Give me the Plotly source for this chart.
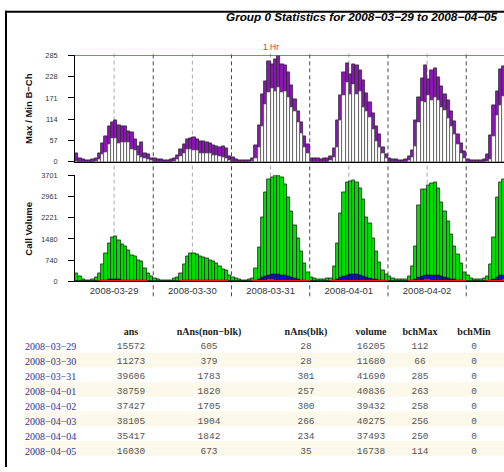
import plotly.graph_objects as go
from datetime import datetime, timedelta

W, H = 504, 472

# ---------------- hourly data ----------------
day_labels = ["2008-03-29", "2008-03-30", "2008-03-31", "2008-04-01", "2008-04-02", "2008-04-03"]

# Max / Min B-Ch per hour
max_0329 = [23, 10, 7, 5, 5, 7, 9, 22, 49, 69, 95, 107, 112, 99, 96, 94, 83, 80, 61, 42, 53, 22, 20, 11]
min_0329 = [3, 0, 0, 0, 0, 0, 2, 6, 20, 27, 48, 62, 62, 50, 52, 52, 52, 34, 32, 18, 12, 10, 7, 4]
max_0330 = [11, 7, 6, 4, 4, 6, 10, 18, 33, 46, 60, 62, 66, 61, 56, 54, 53, 50, 45, 43, 40, 41, 36, 16]
min_0330 = [0, 0, 0, 0, 0, 0, 2, 6, 14, 24, 33, 33, 32, 31, 24, 22, 22, 22, 18, 18, 16, 13, 10, 4]
max_0331 = [13, 7, 5, 4, 4, 5, 10, 44, 97, 180, 215, 270, 262, 275, 285, 262, 258, 240, 204, 167, 135, 105, 68, 46]
min_0331 = [0, 0, 0, 0, 0, 0, 2, 10, 38, 94, 155, 186, 197, 190, 199, 185, 190, 173, 147, 134, 107, 77, 38, 24]
max_0401 = [11, 11, 10, 8, 10, 11, 16, 36, 111, 177, 240, 263, 235, 260, 258, 245, 218, 184, 160, 129, 96, 73, 39, 21]
min_0401 = [0, 0, 0, 0, 0, 0, 4, 12, 40, 112, 177, 212, 182, 208, 182, 190, 147, 134, 120, 86, 55, 38, 23, 11]
max_0402 = [11, 8, 6, 5, 5, 7, 15, 30, 110, 173, 224, 258, 221, 245, 250, 227, 201, 182, 164, 134, 108, 73, 49, 29]
min_0402 = [0, 0, 0, 0, 0, 0, 4, 12, 42, 107, 163, 160, 177, 164, 173, 164, 147, 138, 116, 94, 73, 46, 24, 11]
max_0403 = [7, 4, 4, 4, 4, 6, 20, 70, 151, 190, 247, 256]
min_0403 = [0, 0, 0, 0, 0, 0, 2, 8, 68, 125, 151, 175]

# Call volume per hour (total), non-blocked unanswered, blocked
vol_0329 = [285, 171, 80, 34, 34, 57, 148, 263, 605, 971, 1313, 1519, 1553, 1439, 1290, 1233, 1085, 891, 856, 719, 697, 468, 263, 183]
vol_0330 = [120, 80, 45, 30, 25, 40, 91, 148, 285, 605, 860, 960, 980, 950, 880, 840, 800, 730, 680, 620, 514, 434, 377, 206]
vol_0331 = [150, 90, 60, 50, 50, 70, 114, 450, 1200, 2250, 3100, 3550, 3620, 3701, 3690, 3640, 3400, 2950, 2450, 1950, 1500, 1050, 620, 320]
vol_0401 = [150, 110, 70, 60, 80, 90, 120, 520, 1320, 2375, 3118, 3440, 3490, 3517, 3470, 3232, 2860, 2240, 2010, 1500, 1040, 662, 377, 240]
vol_0402 = [190, 100, 70, 60, 60, 70, 180, 514, 1233, 2661, 3209, 3209, 3346, 3437, 3460, 3232, 2775, 2432, 2090, 1633, 1233, 925, 628, 320]
vol_0403 = [205, 91, 68, 68, 68, 91, 171, 605, 1519, 2946, 3460, 3575]

nonblk_0329 = [10, 6, 3, 2, 2, 3, 6, 12, 25, 38, 50, 55, 58, 52, 48, 45, 40, 34, 30, 28, 25, 18, 10, 6]
nonblk_0330 = [5, 3, 2, 1, 1, 2, 4, 6, 10, 18, 26, 30, 32, 30, 28, 27, 26, 24, 22, 21, 19, 17, 15, 10]
nonblk_0331 = [6, 4, 3, 2, 2, 3, 5, 20, 60, 110, 150, 185, 200, 210, 205, 195, 170, 140, 110, 85, 60, 40, 25, 12]
nonblk_0401 = [5, 4, 3, 2, 2, 3, 5, 22, 65, 115, 160, 190, 200, 205, 200, 185, 160, 130, 105, 75, 50, 30, 18, 10]
nonblk_0402 = [6, 4, 3, 2, 2, 3, 6, 20, 60, 110, 150, 170, 180, 185, 180, 170, 150, 125, 100, 75, 52, 32, 20, 10]
nonblk_0403 = [6, 3, 2, 2, 2, 3, 6, 22, 65, 120, 165, 185]

blk_0329 = [0, 0, 0, 0, 0, 0, 0, 1, 2, 3, 3, 3, 3, 2, 2, 2, 2, 1, 1, 1, 1, 1, 0, 0]
blk_0330 = [0, 0, 0, 0, 0, 0, 0, 0, 1, 2, 2, 3, 3, 3, 2, 2, 2, 2, 1, 1, 1, 1, 1, 0]
blk_0331 = [0, 0, 0, 0, 0, 0, 1, 4, 12, 20, 30, 35, 35, 33, 30, 28, 24, 18, 12, 8, 5, 3, 2, 1]
blk_0401 = [0, 0, 0, 0, 0, 0, 1, 4, 10, 18, 26, 30, 30, 28, 26, 24, 20, 15, 10, 7, 4, 2, 1, 1]
blk_0402 = [0, 0, 0, 0, 0, 0, 1, 4, 12, 22, 30, 34, 34, 32, 30, 28, 24, 18, 12, 8, 5, 3, 2, 1]
blk_0403 = [0, 0, 0, 0, 0, 0, 1, 4, 12, 22, 30, 34]

bch_ticks = [0, 57, 114, 171, 228, 285]
vol_ticks = [0, 740, 1480, 2221, 2961, 3701]

# ---------------- daily table ----------------
tbl_header = ["ans", "nAns(non\u2212blk)", "nAns(blk)", "volume", "bchMax", "bchMin"]
tbl_dates = ["2008\u221203\u221229", "2008\u221203\u221230", "2008\u221203\u221231", "2008\u221204\u221201",
             "2008\u221204\u221202", "2008\u221204\u221203", "2008\u221204\u221204", "2008\u221204\u221205"]
tbl_ans = [15572, 11273, 39606, 38759, 37427, 38105, 35417, 16030]
tbl_nans_nonblk = [605, 379, 1783, 1820, 1705, 1904, 1842, 673]
tbl_nans_blk = [28, 28, 301, 257, 300, 266, 234, 35]
tbl_volume = [16205, 11680, 41690, 40836, 39432, 40275, 37493, 16738]
tbl_bchmax = [112, 66, 285, 263, 258, 256, 250, 114]
tbl_bchmin = [0, 0, 0, 0, 0, 0, 0, 0]

# ---------------- build series ----------------
maxes = max_0329 + max_0330 + max_0331 + max_0401 + max_0402 + max_0403
mins = min_0329 + min_0330 + min_0331 + min_0401 + min_0402 + min_0403
vols = vol_0329 + vol_0330 + vol_0331 + vol_0401 + vol_0402 + vol_0403
nonblk = nonblk_0329 + nonblk_0330 + nonblk_0331 + nonblk_0401 + nonblk_0402 + nonblk_0403
blk = blk_0329 + blk_0330 + blk_0331 + blk_0401 + blk_0402 + blk_0403

t0 = datetime(2008, 3, 29)
xs = [t0 + timedelta(minutes=30 + 60 * i) for i in range(len(maxes))]
bar_w = 3600 * 1000
unans = [a + b for a, b in zip(nonblk, blk)]

def px_x(p):
    return p / W

def px_y(p):
    return 1 - p / H

fig = go.Figure()
fig.add_trace(go.Bar(x=xs, y=maxes, width=bar_w, xaxis="x", yaxis="y",
                     marker=dict(color="#8a16b4", line=dict(color="#2b2b2b", width=0.8))))
fig.add_trace(go.Bar(x=xs, y=mins, width=bar_w, xaxis="x", yaxis="y",
                     marker=dict(color="white", line=dict(color="#555555", width=0.8))))
fig.add_trace(go.Bar(x=xs, y=vols, width=bar_w, xaxis="x2", yaxis="y2",
                     marker=dict(color="#00e000", line=dict(color="#222222", width=0.8))))
fig.add_trace(go.Bar(x=xs, y=unans, width=bar_w, xaxis="x2", yaxis="y2",
                     marker=dict(color="#0a14d8", line=dict(color="#111111", width=0.6))))
fig.add_trace(go.Bar(x=xs, y=blk, width=bar_w, xaxis="x2", yaxis="y2",
                     marker=dict(color="#ff1010", line=dict(width=0))))

# table geometry (pixels)
tbl_top = 321.5
row_h = 15
first_row_center = 348

# table (a spacer column keeps every centred column where it belongs)
hdr = [""] + tbl_header[:2] + [""] + tbl_header[2:]
n_rows = len(tbl_dates)
spacer = [""] * n_rows
cell_vals = [tbl_dates, tbl_ans, tbl_nans_nonblk, spacer, tbl_nans_blk, tbl_volume, tbl_bchmax, tbl_bchmin]
fig.add_trace(go.Table(
    domain=dict(x=[px_x(17), 1], y=[px_y(466), px_y(tbl_top)]),
    columnwidth=[78, 72, 84, 15, 80, 50, 48, 60],
    header=dict(values=hdr, height=row_h, fill_color="rgba(0,0,0,0)", line=dict(width=0),
                align=["left"] + ["center"] * 7,
                font=dict(family="Liberation Serif", size=10, color="#222222", weight="bold")),
    cells=dict(values=cell_vals, height=row_h, fill=dict(color="rgba(0,0,0,0)"), line=dict(width=0),
               align=["left"] + ["center"] * 7,
               font=dict(family=["Liberation Serif"] + ["Liberation Mono"] * 7,
                         size=[10] + [9.5] * 7,
                         color=["#333399"] + ["#555555"] * 7)),
))

x_start = t0
x_end = t0 + timedelta(days=5, hours=11, minutes=35)
noons = [t0 + timedelta(days=d, hours=12) for d in range(len(day_labels))]
midnights = [t0 + timedelta(days=d) for d in range(1, len(day_labels))]

axis_common = dict(type="date", range=[x_start, x_end], domain=[px_x(75), 1], showgrid=False,
                   zeroline=False, showline=True, linecolor="black", linewidth=1)
yaxis_common = dict(showgrid=False, zeroline=False, showline=True, linecolor="black", linewidth=1,
                    ticks="outside", ticklen=6, tickcolor="black", ticklabelstandoff=9,
                    tickfont=dict(family="Liberation Sans", size=7.3, color="#333333"))

shapes = []
# alternating row bands of the table
for r in range(1, n_rows, 2):
    c = first_row_center + row_h * r
    shapes.append(dict(type="rect", xref="paper", yref="paper", x0=px_x(24), x1=1,
                       y0=px_y(c + row_h / 2), y1=px_y(c - row_h / 2),
                       fillcolor="#fcf8ea", line=dict(width=0), layer="below"))
for m in midnights:
    shapes.append(dict(type="line", xref="x", yref="paper", x0=m, x1=m, y0=px_y(298), y1=px_y(50),
                       line=dict(color="#4a4a4a", width=1, dash="4px,3px"), layer="below"))
for n in noons:
    shapes.append(dict(type="line", xref="x", yref="paper", x0=n, x1=n, y0=px_y(283), y1=px_y(50),
                       line=dict(color="#a8a8a8", width=1, dash="4px,3px"), layer="below"))
shapes.append(dict(type="line", xref="x domain", yref="y", x0=0, x1=1, y0=bch_ticks[-1], y1=bch_ticks[-1],
                   line=dict(color="#ff2020", width=1.5), layer="above"))
# page frame
shapes.append(dict(type="line", xref="paper", yref="paper", x0=px_x(6), x1=px_x(6), y0=0, y1=px_y(7),
                   line=dict(color="black", width=2)))
shapes.append(dict(type="line", xref="paper", yref="paper", x0=px_x(5), x1=1, y0=px_y(8), y1=px_y(8),
                   line=dict(color="black", width=2)))

annotations = [
    dict(text="1 Hr", xref="x", yref="y", x=t0 + timedelta(days=2, hours=12), y=bch_ticks[-1],
         yanchor="bottom", showarrow=False, yshift=1,
         font=dict(family="Liberation Sans", size=8.5, color="#ff2020")),
    dict(text="<b>Max / Min B\u2212Ch</b>", xref="paper", yref="paper", x=px_x(29), y=px_y(107),
         xanchor="center", yanchor="middle",
         textangle=-90, showarrow=False, font=dict(family="Liberation Sans", size=9.5, color="#111111")),
    dict(text="<b>Call Volume</b>", xref="paper", yref="paper", x=px_x(29), y=px_y(229),
         xanchor="center", yanchor="middle",
         textangle=-90, showarrow=False, font=dict(family="Liberation Sans", size=9.5, color="#111111")),
]

fig.update_layout(
    width=W, height=H, margin=dict(l=0, r=0, t=0, b=0),
    paper_bgcolor="white", plot_bgcolor="rgba(0,0,0,0)",
    barmode="overlay", bargap=0, showlegend=False,
    title=dict(text="<b><i>Group 0 Statistics for 2008\u221203\u221229 to 2008\u221204\u221205</i></b>",
               x=px_x(497), xanchor="right", xref="paper", y=px_y(17), yanchor="middle", yref="container",
               font=dict(family="Liberation Sans", size=11.7, color="black")),
    xaxis=dict(axis_common, anchor="y", showticklabels=False, ticks=""),
    xaxis2=dict(axis_common, anchor="y2", matches="x", tickmode="array", tickvals=noons,
                ticktext=day_labels, ticks="",
                tickfont=dict(family="Liberation Sans", size=9.5, color="#333333")),
    yaxis=dict(yaxis_common, domain=[px_y(161), px_y(52.3)], range=[0, bch_ticks[-1]],
               tickmode="array", tickvals=bch_ticks, anchor="x"),
    yaxis2=dict(yaxis_common, domain=[px_y(282.7), px_y(174.7)], range=[0, vol_ticks[-1]],
                tickmode="array", tickvals=vol_ticks, anchor="x2"),
    shapes=shapes, annotations=annotations,
)

fig.write_html("out.html", config={"displayModeBar": False},
               post_script="document.body.style.margin='0';document.body.style.overflow='hidden';")
